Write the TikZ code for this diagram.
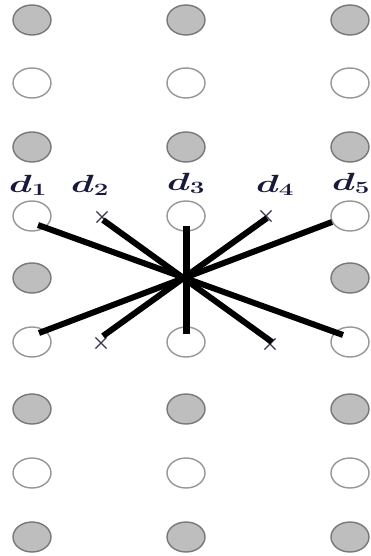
\documentclass[tikz,border=0pt]{standalone}
\usetikzlibrary{shapes.geometric,shapes.misc}
\definecolor{dotfill}{RGB}{190,190,190}
\definecolor{dotedge}{RGB}{120,120,120}
\definecolor{openedge}{RGB}{150,150,150}
\definecolor{crosscol}{RGB}{60,50,80}
\definecolor{labcol}{RGB}{25,25,60}
\tikzset{
  filleddot/.style={ellipse, minimum width=38pt, minimum height=30pt, inner sep=0pt, fill=dotfill, draw=dotedge, line width=1.4pt},
  opendot/.style={ellipse, minimum width=38pt, minimum height=30pt, inner sep=0pt, fill=white, draw=openedge, line width=1.4pt},
  crossmark/.style={cross out, draw=crosscol, line width=1.2pt, minimum size=10pt, inner sep=0pt},
  spoke/.style={line width=6pt, black},
  lab/.style={anchor=base west, inner sep=0pt, text=labcol, font=\fontsize{25}{29}\selectfont\boldmath}
}
\begin{document}
\begin{tikzpicture}[x=1pt,y=-1pt]
\useasboundingbox (0,0) rectangle (371,556);
% grid of dots (the centre one is hidden under the spokes)
\foreach \r/\y/\k in {1/20/filleddot,2/83/opendot,3/147/filleddot,4/216/opendot,5/278/filleddot,6/342/opendot,7/409/filleddot,8/473/opendot,9/537/filleddot}{
  \node[\k] (a\r) at (32,\y) {};
  \ifnum\r=5\else\node[\k] (b\r) at (186,\y) {};\fi
  \node[\k] (c\r) at (350,\y) {};
}
% crosses
\node[crossmark] (x2t) at (102,217) {};
\node[crossmark] (x4t) at (266,216) {};
\node[crossmark] (x2b) at (101,343) {};
\node[crossmark] (x4b) at (270,344) {};
% spoke ends
\coordinate (e1) at (38,225);
\coordinate (f1) at (343,335);
\coordinate (e5) at (332,222);
\coordinate (f5) at (39,333);
\coordinate (e2) at (103,220);
\coordinate (f2) at (272,342);
\coordinate (e4) at (267,218);
\coordinate (f4) at (103,336);
\coordinate (e3) at (186,226);
\coordinate (f3) at (186,334);
\draw[spoke] (e1) -- (f1);
\draw[spoke] (e5) -- (f5);
\draw[spoke] (e2) -- (f2);
\draw[spoke] (e4) -- (f4);
\draw[spoke, line width=7pt] (e3) -- (f3);
% labels
\node[lab] (l1) at (9,192) {\scalebox{1.5}[1]{$d_1$}};
\node[lab] (l2) at (71,192) {\scalebox{1.5}[1]{$d_2$}};
\node[lab] (l3) at (167,190) {\scalebox{1.5}[1]{$d_3$}};
\node[lab] (l4) at (256,192) {\scalebox{1.5}[1]{$d_4$}};
\node[lab] (l5) at (332,190) {\scalebox{1.5}[1]{$d_5$}};
\end{tikzpicture}
\end{document}
